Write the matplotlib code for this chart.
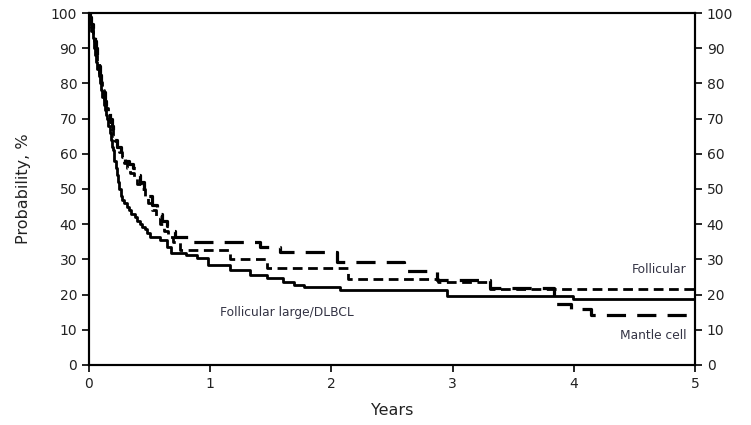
#!/usr/bin/env python3
"""Kaplan-Meier style curves: Follicular, Mantle cell, Follicular large/DLBCL."""
import matplotlib
matplotlib.use("Agg")
import matplotlib.pyplot as plt

# Follicular large/DLBCL (solid)
dlbcl_t = [0, 0.01, 0.02, 0.03, 0.04, 0.05, 0.06, 0.07, 0.08, 0.09, 0.10, 0.11,
           0.12, 0.13, 0.14, 0.15, 0.16, 0.17, 0.18, 0.19, 0.20, 0.21, 0.22,
           0.23, 0.24, 0.25, 0.26, 0.27, 0.29, 0.31, 0.33, 0.35, 0.38, 0.40,
           0.42, 0.44, 0.46, 0.48, 0.50, 0.59, 0.64, 0.68, 0.80, 0.89, 0.98,
           1.16, 1.33, 1.47, 1.60, 1.69, 1.77, 2.07, 2.95, 3.99, 5.0]
dlbcl_s = [100, 98, 95, 93, 90, 88, 86, 84, 82, 80, 78, 76,
           74, 72.5, 71, 70, 68, 66, 64, 62, 61, 58, 56,
           54, 52, 50, 48, 47, 46, 45, 44, 43, 42, 41,
           40, 39.2, 38.5, 37.5, 36.5, 35.5, 33.6, 31.8, 31.2, 30.3, 28.4,
           27, 25.6, 24.7, 23.7, 22.7, 22.2, 21.3, 19.7, 18.7, 18.7]

# Mantle cell (long dashes)
mantle_t = [0, 0.01, 0.02, 0.03, 0.04, 0.05, 0.06, 0.07, 0.08, 0.09, 0.10,
            0.115, 0.13, 0.14, 0.15, 0.17, 0.19, 0.20, 0.21, 0.235, 0.26,
            0.28, 0.30, 0.33, 0.36, 0.39, 0.42, 0.45, 0.48, 0.52, 0.56, 0.60,
            0.64, 0.68, 0.71, 0.83, 1.41, 1.58, 2.05, 2.60, 2.87, 3.31, 3.84,
            3.98, 4.14, 5.0]
mantle_s = [100, 99, 97, 95.5, 94, 92, 90, 87.5, 85, 82.5, 80,
            77.5, 75, 73.5, 72, 70, 68, 66, 64, 62, 60,
            59, 58, 57, 56, 54, 52, 50, 48, 45.5, 43, 41,
            39.5, 38, 36.4, 35, 33.6, 32.2, 29.4, 26.8, 24.1, 21.8, 17.3,
            15.9, 14.2, 14.2]

# Follicular (short dashes)
foll_t = [0, 0.01, 0.02, 0.03, 0.04, 0.05, 0.06, 0.07, 0.08, 0.095, 0.11,
          0.125, 0.14, 0.155, 0.17, 0.185, 0.20, 0.215, 0.23, 0.25, 0.27,
          0.29, 0.31, 0.34, 0.37, 0.40, 0.43, 0.46, 0.49, 0.52, 0.55, 0.585,
          0.62, 0.655, 0.69, 0.75, 1.16, 1.47, 2.14, 2.88, 3.31, 5.0]
foll_s = [100, 98, 96, 94, 92, 90, 88, 85.5, 83, 80.5, 78,
          75.5, 73, 71, 69, 67, 65, 63.5, 62, 60.5, 59,
          57.5, 56, 54.5, 53, 51.5, 50, 48, 46, 44, 42, 40,
          38, 36.5, 35, 32.7, 30, 27.5, 24.4, 23.7, 21.5, 21.5]

x_ticks = [0, 1, 2, 3, 4, 5]
y_ticks = list(range(0, 101, 10))

fig = plt.figure(figsize=(7.51, 4.25), dpi=100)
ax = fig.add_axes([0.1185, 0.1412, 0.8069, 0.8282])

ax.plot(dlbcl_t, dlbcl_s, drawstyle="steps-post", color="black", lw=2.0)
ax.plot(mantle_t, mantle_s, drawstyle="steps-post", color="black", lw=2.3,
        dashes=(6, 3.5))
ax.plot(foll_t, foll_s, drawstyle="steps-post", color="black", lw=2.0,
        dashes=(3.5, 2))

ax.set_xlim(0, 5)
ax.set_ylim(0, 100)
ax.set_xticks(x_ticks)
ax.set_yticks(y_ticks)
ax.tick_params(direction="out", length=5, width=1.2, labelsize=10,
               labelcolor="#222222")
for sp in ax.spines.values():
    sp.set_linewidth(1.5)

ax2 = ax.twinx()
ax2.set_ylim(0, 100)
ax2.set_yticks(y_ticks)
ax2.tick_params(direction="out", length=5, width=1.2, labelsize=10,
                labelcolor="#222222")
for sp in ax2.spines.values():
    sp.set_linewidth(1.5)

ax.set_xlabel("Years", fontsize=11.5, color="#222222", labelpad=9)
ax.set_ylabel("Probability, %", fontsize=11.5, color="#222222", labelpad=14)

txt = dict(fontsize=8.8, color="#333344")
ax.text(4.93, 27, "Follicular", ha="right", va="center", **txt)
ax.text(4.93, 8.5, "Mantle cell", ha="right", va="center", **txt)
ax.text(1.08, 15, "Follicular large/DLBCL", ha="left", va="center", **txt)

fig.savefig("out.png", dpi=100)
